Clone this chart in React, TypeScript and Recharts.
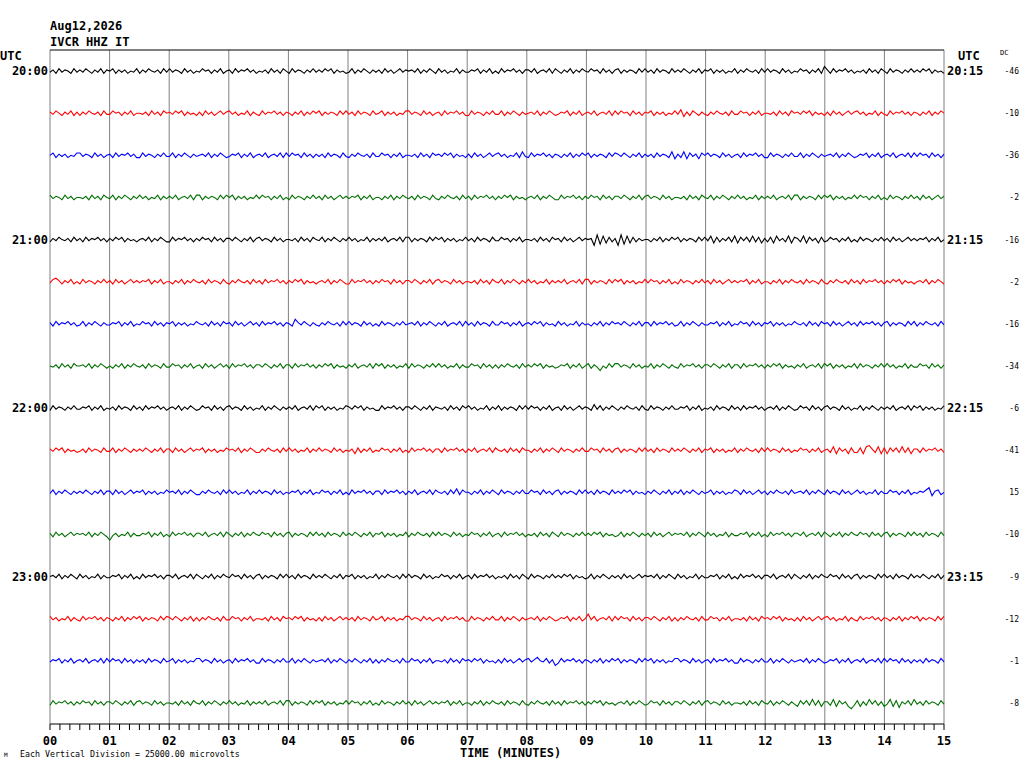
import { LineChart, Line, XAxis, YAxis, ReferenceLine } from "recharts";

// helicorder IVCR HHZ IT, 20:00-24:00 UTC, 15 min per row
const hourLeft = ["20:00", "21:00", "22:00", "23:00"];
const hourRight = ["20:15", "21:15", "22:15", "23:15"];
const hourRows = [0, -4, -8, -12];
const dcValues = [-46, -10, -36, -2, -16, -2, -16, -34, -6, -41, 15, -10, -9, -12, -1, -8];
const traceColors = ["#000000", "#ff0000", "#0000ff", "#006f00"];
const minuteLabels = ["00", "01", "02", "03", "04", "05", "06", "07", "08", "09", "10", "11", "12", "13", "14", "15"];
const minutes = [0, 1, 2, 3, 4, 5, 6, 7, 8, 9, 10, 11, 12, 13, 14, 15];

// one digit per 3 s sample, 5 = baseline
const trace00 = "4637465374 6475364736 5736463547 3647546374 7465374635 4756364735 6374657463 5463746375 3746536474 6475736453 4736475364 6374635746 5647364753 7463547364 4657364735 3746574636 6473564737 5364736475 4756374636 7364653747 4637465374 6475364736 5736463547 3647546374 7465374635 4756364739 6374657463 5463746375 3746536474 6475736453";
const trace01 = "6475364736 3647546374 4756364735 5463746375 6475736453 6374635746 7463547364 3746574636 5364736475 7364653747 4637465374 5736463547 7465374635 6374657463 3746536474 4736475364 5647364753 4657364735 6473564737 4756374636 5736463547 4826375364 3647546374 4756364735 5463746375 6475736453 6374635746 7463547364 3746574636 5364736475";
const trace02 = "5736463547 7465374635 6374657463 3746536474 4736475364 5647364753 4657364735 6473564737 4756374636 4637465374 3647546374 4756364735 5463746375 6475736453 6374635746 7463547384 3746574636 5364736475 7364653747 6475364736 4637465382 6382746275 7465374635 6374657463 3746536474 4736475364 5647364753 4657364735 6473564737 4756374636";
const trace03 = "7465374635 5463746375 4736475364 7463547364 6473564737 7364653747 5736463547 4756364735 3746536474 6374635746 4657364735 5364736475 4637465374 3647546374 6374657463 6475736453 5647364753 3746574636 4756374636 6475364736 7465374635 5463746375 4736475364 7463547364 6473564737 7364653747 5736463547 4756364735 3746536474 6374635746";
const trace04 = "3647546374 6374657463 6475736453 5647364753 3746574636 4756374636 6475364736 7465374635 5463746375 4736475364 7463547364 6473564737 7364653747 5736463547 4637465374 4756364735 5463746375 6374635746 5609182736 0918273645 5364736475 7364653747 4827364738 2747383726 3728463827 6382746273 4756364735 3746536474 6374635746 4657364735";
const trace05 = "4786364735 3746536474 6374635746 4657364735 5364736475 4637465374 3647546374 6374657463 6475736453 5647364753 3746574636 4756374636 6475364736 7465374635 5463746375 4736475364 7463547364 6473564737 7364653747 5736463547 4756364735 3746536474 6374635746 4657364735 5364736475 4637465374 3647546374 6374657463 6475736453 5647364753";
const trace06 = "6374657463 4736475364 4657364735 4756374636 5736463547 5463746375 6374635746 3746574636 5396475364 3647546374 7465374635 3746536474 5647364753 6473564737 4637465374 4756364735 6475736453 7463547364 5364736475 6475364736 6374657463 4736475364 4657364735 4756374636 5736463547 5463746375 6374635746 3746574636 7364653747 3647546374";
const trace07 = "5463746375 5647364753 5364736475 4637465374 4756364735 6374635746 3746574636 6475364736 6374657463 6475736453 6473564737 5736463547 3746536474 7463547364 4756374636 3647546374 6475736453 4657364735 7364153747 7465374635 4736475364 3746574636 6475364736 6374657463 6475736453 6473564737 5736463547 3746536474 7463547364 4756374636";
const trace08 = "3746536474 4657364735 4637465374 6374657463 5647364753 4756374636 7465374635 4736475364 6473564737 5736463547 6475736453 3746574636 6475364736 5463746375 7463547364 7364653747 4756364735 6374635746 5384736475 3647546374 3746536474 4657364735 4637465374 6374657463 5647364753 4756374636 7465374635 4736475364 6473564737 5736463547";
const trace09 = "6475736453 4637465374 4736475364 6475364736 6374635746 5736463547 5647364753 3647546374 7463547364 7465374635 4627364735 4756364735 3746574636 6374657463 6473564737 5463746375 5364736475 3746536474 4756374636 7364653747 4637465374 6475364736 5736463547 3647546374 7465374635 4756364735 6382746273 3728963827 2747383726 6374657463";
const trace10 = "4736475364 6475364736 6374635746 5736463547 5647364753 3647546374 7463547364 7465374635 4657364735 4756364735 3746574636 6374657463 6473564737 5463748375 5364736475 3746536474 4756374636 7364653747 4637465374 6475736453 6475364736 4736475364 5736463547 6374635746 3647546374 5647364753 7465374635 7463547364 4756364735 4657926735";
const trace11 = "6374635746 5647364753 0463547364 4657364735 3746574636 6473564737 5364736475 4756374636 7364653747 4637465374 6475364736 5736463547 3647546374 7465374635 4756364735 6374657463 5463746375 3746536474 6475736453 4736475364 6374635746 5647364753 7463547364 4657364735 3746574636 6473564737 5364736475 4756374636 7364653747 4637465374";
const trace12 = "5647364753 7463547364 4657364735 3746574636 6473564737 5364736475 4756374636 7364653747 4637465374 6475364736 5736463547 3647546374 7465374635 4756364735 6374657463 5463746375 3746536474 6475736453 4736475364 6374635746 5647364753 7463547364 4657364735 3746574636 6473564737 5364736475 4756374636 7364653747 4637465374 6475364736";
const trace13 = "7463547364 3746574636 5364736475 7364653747 6475364736 3647546374 4756364735 5463746375 6475736453 6374635746 4637465374 5736463547 7465374635 6374657463 3746536474 4736475364 5647364753 4657364735 9473564737 4756374636 6475364736 3647546374 4756364735 5463746375 6475736453 6374635746 7463547364 3746574636 5364736475 7364653747";
const trace14 = "4657364735 6473564737 4756374636 4637465374 5736463547 7465374635 6374657463 3746536474 4736475364 5647364753 6475364736 3647546374 4756364735 5463746375 6475736453 6374635746 7468547361 3746574636 5364736475 7364653747 5736463547 7465374635 6374657463 3746536474 4736475364 5647364753 4657364735 6473564737 4756374636 4637465374";
const trace15 = "3746574636 4756374636 6475364736 7465374635 5463746375 4736475364 7463547364 6473564737 7364653747 5736463547 4756364735 3746536474 6374635746 4657364735 5364736475 4637465374 3647546374 6374657463 6475736453 5647364753 4756374636 6475364736 7465374635 5463746375 4736475364 2747383726 6382746203 7263847362 4827164738 4637465374";

const traces = [
  trace00, trace01, trace02, trace03, trace04, trace05, trace06, trace07,
  trace08, trace09, trace10, trace11, trace12, trace13, trace14, trace15,
];

const UNIT = 1.15 / 42.1; // one digit step in row units (about 1 px)
const FONT = "'DejaVu Sans Mono', monospace";
const DOMAIN: [number, number] = [-15.5, 0.5];

const series = traces.map((rec, row) => {
  const digits = rec.replace(/\s/g, "").split("").map(Number);
  return digits.map((d, i) => ({ t: (i * 15) / (digits.length - 1), v: -row + (d - 5) * UNIT }));
});

const xTicks = Array.from({ length: 91 }, (_, i) => i / 6);
const dcRows = dcValues.map((_, i) => -i);
// right-hand axes are laid out by id: "hours" sits next to the plot, "side" outside it
const axisFor = (row: number) => (row === 0 ? "hours" : row === 1 ? "side" : "left");

const TimeTick = ({ x, y, payload }: any) => {
  const m = payload.value;
  const major = Math.abs(m - Math.round(m)) < 1e-6;
  return (
    <g>
      <line x1={x} x2={x} y1={y} y2={y + 6} stroke="#000" />
      {major && (
        <text x={x} y={y + 21} textAnchor="middle" fontFamily={FONT} fontWeight="bold" fontSize={12} fill="#000">
          {minuteLabels[Math.round(m)]}
        </text>
      )}
    </g>
  );
};

const LeftTick = ({ x, y, payload }: any) => (
  <text x={x - 2} y={y + 4} textAnchor="end" fontFamily={FONT} fontWeight="bold" fontSize={12} fill="#000">
    {hourLeft[hourRows.indexOf(payload.value)]}
  </text>
);

const RightTick = ({ x, y, payload }: any) => {
  const k = hourRows.indexOf(payload.value);
  return (
    <text x={x + 3} y={y + 4} textAnchor="start" fontFamily={FONT} fontWeight="bold" fontSize={12} fill="#000">
      {k >= 0 ? hourRight[k] : ""}
    </text>
  );
};

const DcTick = ({ x, y, payload }: any) => (
  <text x={x + 25} y={y + 3} textAnchor="end" fontFamily={FONT} fontSize={8} fill="#000">
    {dcValues[Math.round(-payload.value)]}
  </text>
);

const txt = (top: number, left: number, size: number, bold = true) => ({
  position: "absolute" as const,
  top,
  left,
  fontSize: size,
  lineHeight: `${size}px`,
  fontFamily: FONT,
  fontWeight: bold ? "bold" : "normal",
  whiteSpace: "nowrap" as const,
  color: "#000",
});

export default function App() {
  return (
    <div style={{ position: "absolute", left: 0, top: 0, width: 1024, height: 768, background: "#fff" }}>
      <div style={txt(20, 50, 12)}>Aug12,2026</div>
      <div style={txt(36, 50, 12)}>IVCR HHZ IT</div>
      <div style={txt(50, 0, 12)}>UTC</div>
      <div style={txt(50, 958, 12)}>UTC</div>
      <div style={txt(50, 1000, 7, false)}>DC</div>
      <div style={txt(747, 460, 12)}>TIME (MINUTES)</div>
      <div style={txt(750, 20, 8.3, false)}>Each Vertical Division = 25000.00 microvolts</div>
      <div style={txt(752, 4, 6, false)}>M</div>
      <LineChart width={1024} height={768} margin={{ top: 50, right: 0, bottom: 14, left: 0 }}>
        <XAxis
          dataKey="t"
          type="number"
          domain={[0, 15]}
          ticks={xTicks}
          interval={0}
          height={30}
          tickSize={0}
          tickMargin={0}
          tickLine={false}
          axisLine={{ stroke: "#000" }}
          tick={<TimeTick />}
        />
        <YAxis
          yAxisId="left"
          type="number"
          domain={DOMAIN}
          ticks={hourRows}
          width={50}
          axisLine={false}
          tickLine={false}
          tickSize={0}
          tickMargin={0}
          tick={<LeftTick />}
        />
        <YAxis
          yAxisId="hours"
          orientation="right"
          type="number"
          domain={DOMAIN}
          ticks={hourRows}
          interval={0}
          width={50}
          axisLine={false}
          tickLine={false}
          tickSize={0}
          tickMargin={0}
          tick={<RightTick />}
        />
        <YAxis
          yAxisId="side"
          orientation="right"
          type="number"
          domain={DOMAIN}
          ticks={dcRows}
          interval={0}
          width={30}
          axisLine={false}
          tickLine={false}
          tickSize={0}
          tickMargin={0}
          tick={<DcTick />}
        />
        {minutes.map((m) => (
          <ReferenceLine key={m} x={m} yAxisId="left" stroke="#808080" strokeWidth={1} />
        ))}
        <ReferenceLine y={0.5} yAxisId="left" stroke="#000" strokeWidth={1} />
        {series.map((pts, row) => (
          <Line
            key={row}
            data={pts}
            dataKey="v"
            yAxisId={axisFor(row)}
            stroke={traceColors[row % 4]}
            strokeWidth={1.1}
            dot={false}
            type="linear"
            isAnimationActive={false}
          />
        ))}
      </LineChart>
    </div>
  );
}
